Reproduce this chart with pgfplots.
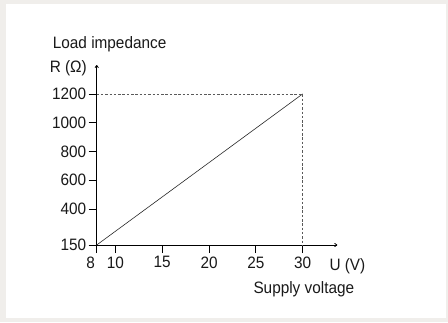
\documentclass[border=0pt]{standalone}
\usepackage{pgfplots}
\pgfplotsset{compat=1.18}
\usepackage{fontspec}
\setmainfont[FakeStretch=0.93]{Liberation Sans}
\usetikzlibrary{arrows.meta}
\definecolor{bgframe}{RGB}{240,238,235}
\definecolor{dashgray}{RGB}{90,90,90}
\definecolor{linegray}{RGB}{40,40,40}
\definecolor{txt}{RGB}{25,25,25}
\newcommand{\lbl}{\fontsize{16.5}{19}\selectfont}
\begin{document}
\begin{tikzpicture}
\fill[bgframe] (0,0) rectangle (448pt,322pt);
\fill[white] (6pt,4pt) rectangle (446pt,318pt);
\begin{axis}[
  at={(96.7pt,77pt)}, anchor=south west,
  scale only axis, width=240.6pt, height=180pt,
  xmin=8, xmax=33.7, ymin=150, ymax=1401,
  axis lines=left,
  axis line style={line width=0.8pt, -{To[length=3pt,width=4pt]}},
  xtick={10,15,20,25,30},
  extra x ticks={8},
  extra x tick style={xticklabel style={xshift=-6pt}},
  ytick={150,400,600,800,1000,1200},
  tick align=outside, major tick length=8pt,
  tick style={line width=0.8pt, black},
  tick label style={font=\lbl, text=txt},
  /pgf/number format/assume math mode=true,
  /pgf/number format/1000 sep={},
  yticklabel style={xshift=1pt},
  clip=false,
]
\addplot[linegray, line width=0.6pt] coordinates {(8,150) (30,1200)};
\addplot[dashgray, line width=0.6pt, dash pattern=on 2.5pt off 1.8pt] coordinates {(8,1200) (30,1200) (30,150)};
\end{axis}
\node[anchor=base west, inner sep=0pt, font=\lbl, text=txt] at (52.7pt,273.5pt) {Load impedance};
\node[anchor=base east, inner sep=0pt, font=\lbl, text=txt] at (87pt,249.3pt) {R (Ω)};
\node[anchor=base west, inner sep=0pt, font=\lbl, text=txt] at (329.3pt,52pt) {U (V)};
\node[anchor=base west, inner sep=0pt, font=\lbl, text=txt] at (253.3pt,28.7pt) {Supply voltage};
\pgfresetboundingbox
\useasboundingbox (0,0) rectangle (448pt,322pt);
\end{tikzpicture}
\end{document}
